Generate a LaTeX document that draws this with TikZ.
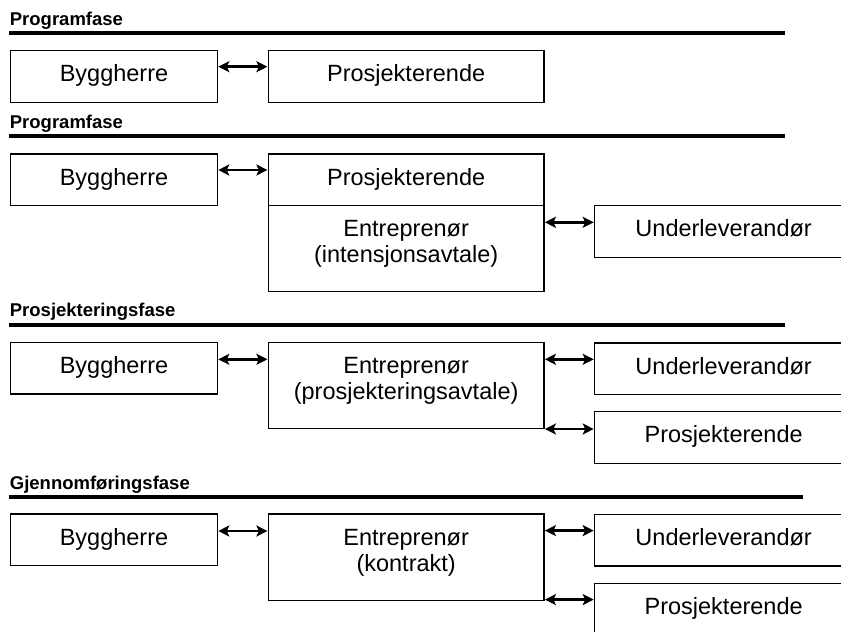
\documentclass[tikz,border=0pt]{standalone}
\usepackage{fontspec}
\setmainfont{Liberation Sans}
\usetikzlibrary{arrows.meta}
% depth filler for the last line of two-line boxes
\newcommand\lastlinedepth{\rule[-13.5pt]{0pt}{0pt}}
\begin{document}
\begin{tikzpicture}[x=1pt,y=-1pt,
  box/.style={draw, line width=1.3pt, inner sep=0pt, align=center,
    anchor=north west, font=\fontsize{23.5}{26.3}\selectfont},
  onebox/.style={box, text height=17.5pt, text depth=6.5pt},
  owner/.style={onebox, minimum width=206.7pt, minimum height=51.5pt},
  midbox/.style={onebox, minimum width=275.6pt, minimum height=51.5pt},
  midtall/.style={box, minimum width=275.6pt, minimum height=86pt},
  sidebox/.style={onebox, minimum width=258pt, minimum height=51.5pt},
  phase/.style={anchor=base west, inner sep=0pt,
    font=\fontsize{18.5}{22}\selectfont\bfseries},
  phaserule/.style={line width=3.6pt},
  tip/.tip={Stealth[length=11pt,width=11pt,inset=2.5pt]},
  link/.style={line width=2.9pt, tip-tip, shorten <=0.3pt, shorten >=0.3pt}
]
\useasboundingbox (0,0) rectangle (841,632);
\clip (0,0) rectangle (841,632);

% ---- Programfase (1)
\node[phase] (t1) at (9.7,25) {Programfase};
\draw[phaserule] (9,32.7) -- (785,32.7);
\node[owner] (b1) at (10,50) {Byggherre};
\node[midbox] (p1) at (267.7,50) {Prosjekterende};
\draw[link] ([yshift=-16.7pt]b1.north east) -- ([yshift=-16.7pt]p1.north west);

% ---- Programfase (2)
\node[phase] (t2) at (9.7,128.3) {Programfase};
\draw[phaserule] (9,136) -- (785,136);
\node[owner] (b2) at (10,153.3) {Byggherre};
\node[midbox, minimum height=51.7pt] (p2) at (267.7,153.3) {Prosjekterende};
\node[midtall, minimum height=85.7pt] (e2) at (267.7,205)
  {Entreprenør\\(intensjonsavtale)\lastlinedepth};
\node[sidebox] (u2) at (594,205) {Underleverandør};
\draw[link] ([yshift=-16.7pt]b2.north east) -- ([yshift=-16.7pt]p2.north west);
\draw[link] ([yshift=-17.3pt]e2.north east) -- ([yshift=-17.3pt]u2.north west);

% ---- Prosjekteringsfase
\node[phase] (t3) at (9.7,316.7) {Prosjekteringsfase};
\draw[phaserule] (9,324.7) -- (785,324.7);
\node[owner] (b3) at (10,341.7) {Byggherre};
\node[midtall] (e3) at (267.7,341.7)
  {Entreprenør\\(prosjekteringsavtale)\lastlinedepth};
\node[sidebox] (u3) at (594,342.3) {Underleverandør};
\node[sidebox] (p3) at (594,411) {Prosjekterende};
\draw[link] ([yshift=-17.6pt]b3.north east) -- ([yshift=-17.6pt]e3.north west);
\draw[link] ([yshift=-17.6pt]e3.north east) -- ([yshift=-17.6pt]e3.north east -| u3.west);
\draw[link] (e3.south east) -- (e3.south east -| p3.west);

% ---- Gjennomføringsfase
\node[phase] (t4) at (9.7,489) {Gjennomføringsfase};
\draw[phaserule] (9,497) -- (802.7,497);
\node[owner] (b4) at (10,513.3) {Byggherre};
\node[midtall, minimum height=86.7pt] (e4) at (267.7,513.3)
  {Entreprenør\\(kontrakt)\lastlinedepth};
\node[sidebox] (u4) at (594,513.7) {Underleverandør};
\node[sidebox] (p4) at (594,582.7) {Prosjekterende};
\draw[link] ([yshift=-17.7pt]b4.north east) -- ([yshift=-17.7pt]e4.north west);
\draw[link] ([yshift=-17.3pt]e4.north east) -- ([yshift=-17.3pt]e4.north east -| u4.west);
\draw[link] ([yshift=1.7pt]e4.south east) -- ([yshift=1.7pt]e4.south east -| p4.west);
\end{tikzpicture}
\end{document}
